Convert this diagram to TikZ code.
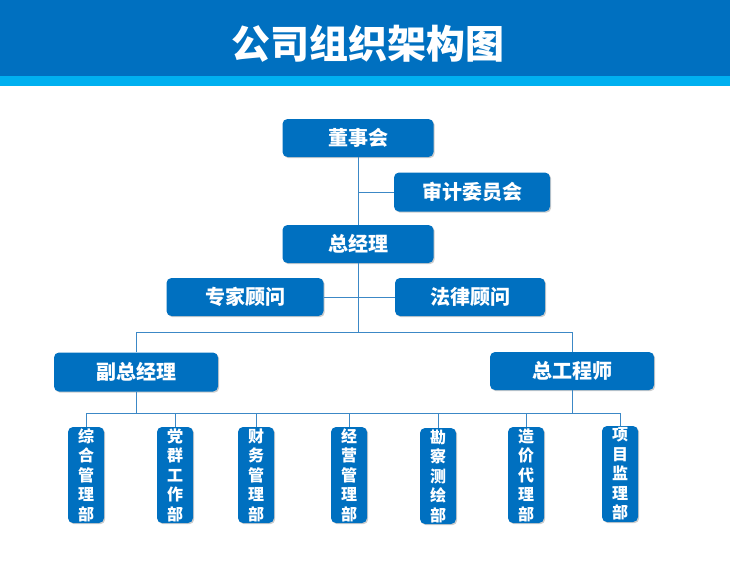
\documentclass[tikz,border=0pt]{standalone}
\usepackage{fontspec}
\setmainfont{Noto Sans CJK SC}
\usetikzlibrary{shadows}
\definecolor{boxblue}{HTML}{0070C0}
\definecolor{bandblue}{HTML}{00B0F0}
\definecolor{lineblue}{HTML}{3C88C6}

\begin{document}
\begin{tikzpicture}[x=1pt, y=-1pt,
    box/.style={rectangle, rounded corners=5pt, fill=boxblue, text=white, inner sep=0pt,
        font=\bfseries\fontsize{20}{20}\selectfont,
        drop shadow={shadow xshift=1.2pt, shadow yshift=-1.2pt, fill=black, opacity=0.2}},
    dept/.style={box, minimum width=36pt, minimum height=96pt, align=center,
        font=\bfseries\fontsize{16}{19.5}\selectfont},
    link/.style={draw=lineblue, line width=1pt}]
    \useasboundingbox (0,0) rectangle (730,579);
    \fill[white] (0,0) rectangle (730,579);
    % header
    \fill[boxblue] (0,0) rectangle (730,76);
    \fill[bandblue] (0,76) rectangle (730,86);
    \node[text=white, font=\bfseries\fontsize{39}{39}\selectfont] (title) at (368,44) {公司组织架构图};

        \node[box, minimum width=151pt, minimum height=38pt] (dsh) at (358,138) {董事会};
        \node[box, minimum width=156pt, minimum height=39pt] (sjw) at (472,192) {审计委员会};
        \node[box, minimum width=151pt, minimum height=38pt] (zjl) at (358,244) {总经理};
        \node[box, minimum width=157pt, minimum height=38pt] (zjgw) at (245,297) {专家顾问};
        \node[box, minimum width=150pt, minimum height=38pt] (flgw) at (470,297) {法律顾问};
        \node[box, minimum width=164pt, minimum height=39pt] (fzjl) at (136,372) {副总经理};
        \node[box, minimum width=164pt, minimum height=38pt] (zgcs) at (572,371) {总工程师};

        \node[dept] (b1) at (86,475) {综\\合\\管\\理\\部};
        \node[dept] (b2) at (175,475) {党\\群\\工\\作\\部};
        \node[dept] (b3) at (256,475) {财\\务\\管\\理\\部};
        \node[dept] (b4) at (349,475) {经\\营\\管\\理\\部};
        \node[dept] (b5) at (438,476) {勘\\察\\测\\绘\\部};
        \node[dept] (b6) at (526,475) {造\\价\\代\\理\\部};
        \node[dept] (b7) at (620,474) {项\\目\\监\\理\\部};

        \coordinate (mid) at (358,332);
        \coordinate (low) at (358,413);

        \draw[link] (dsh) -- (zjl);
        \draw[link] (sjw.west) -- (sjw.west -| dsh);
        \draw[link] (zjgw.east) -- (flgw.west);
        \draw[link] (zjl.south) -- (mid);
        \draw[link] (fzjl.north) -- (fzjl.north |- mid) -- (zgcs.north |- mid) -- (zgcs.north);
        \draw[link] (fzjl.south) -- (fzjl.south |- low);
        \draw[link] (zgcs.south) -- (zgcs.south |- low);
        \draw[link] (b1.north |- low) -- (b7.north |- low);
        \draw[link] (b1.north) -- (b1.north |- low); \draw[link] (b2.north) -- (b2.north |- low);
        \draw[link] (b3.north) -- (b3.north |- low); \draw[link] (b4.north) -- (b4.north |- low);
        \draw[link] (b5.north) -- (b5.north |- low); \draw[link] (b6.north) -- (b6.north |- low);
        \draw[link] (b7.north) -- (b7.north |- low);
\end{tikzpicture}
\end{document}
